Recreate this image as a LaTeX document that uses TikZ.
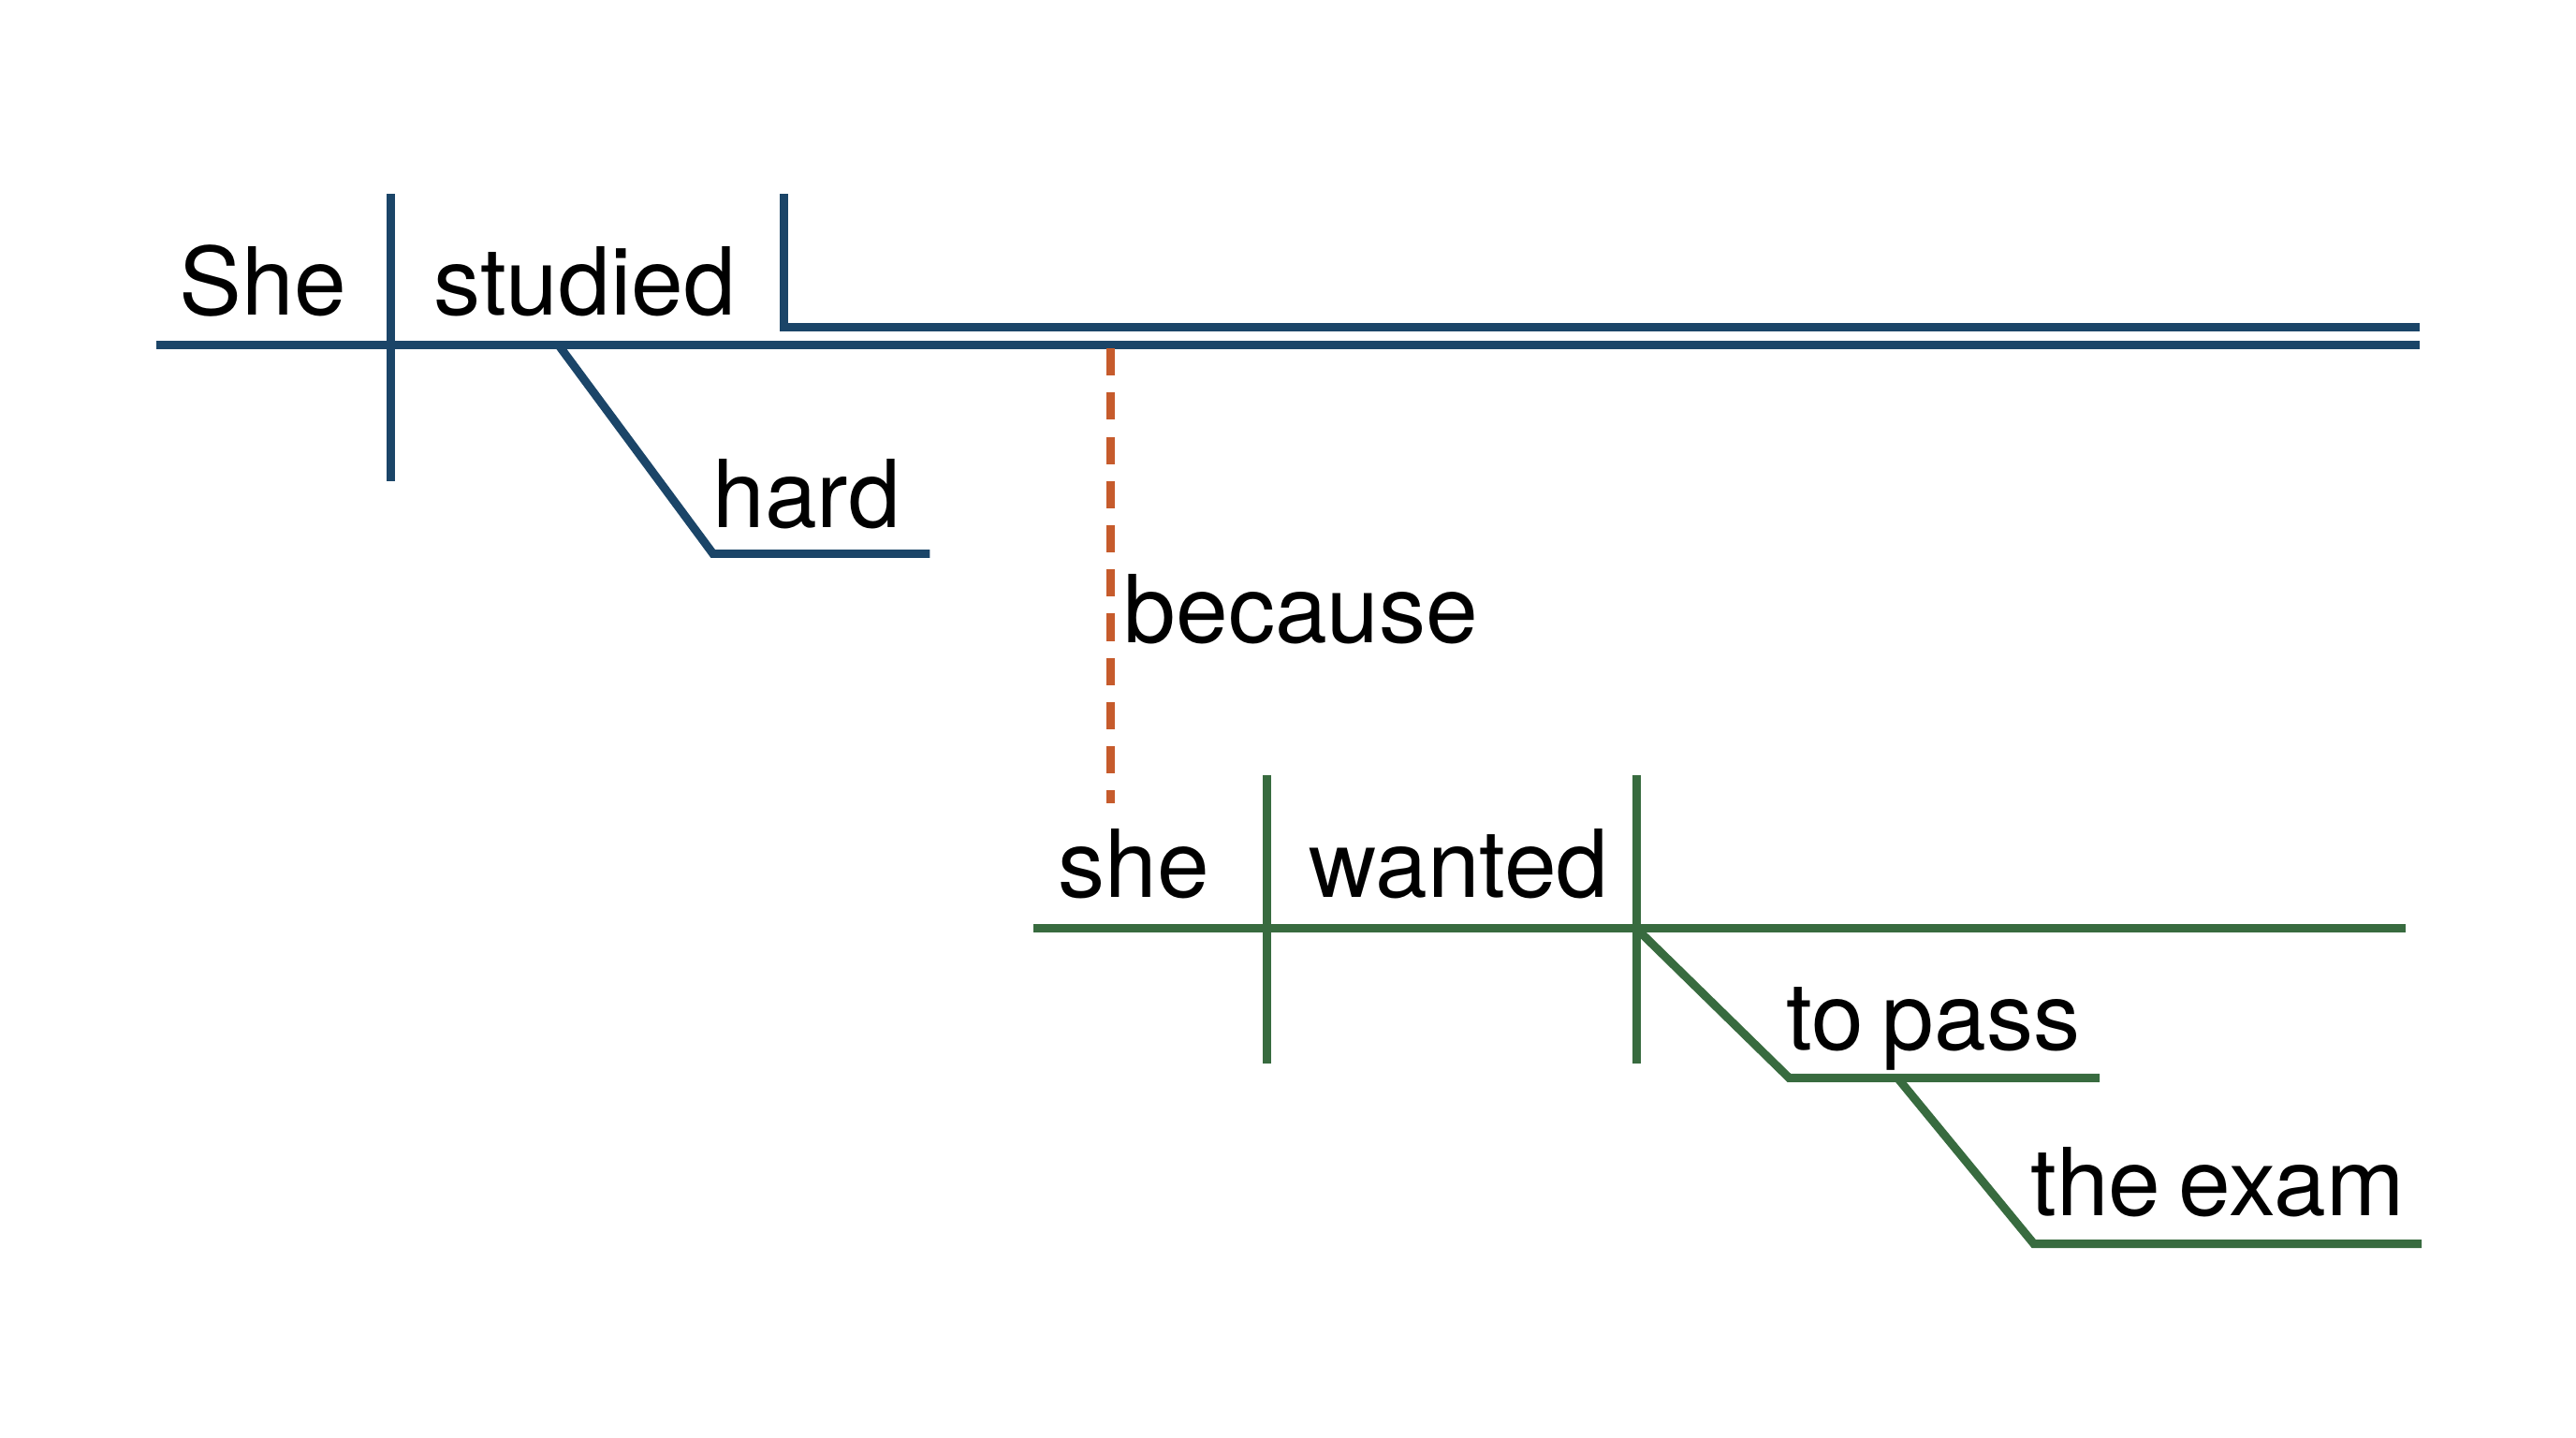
\documentclass[tikz,border=0pt]{standalone}
\usepackage{fontspec}
\setmainfont{TeX Gyre Heros}[WordSpace=0.7]
\definecolor{diagblue}{HTML}{1B4568}
\definecolor{diaggreen}{HTML}{386B3F}
\definecolor{diagorange}{HTML}{C65B2C}
\begin{document}
\begin{tikzpicture}[x=0.02cm, y=-0.02cm, line join=miter,
    mainline/.style={diagblue, line width=2.9pt},
    subline/.style={diaggreen, line width=2.9pt},
    linkline/.style={diagorange, line width=2.9pt, dash pattern=on 9.47pt off 5.84pt},
    word/.style={anchor=base, inner sep=0pt, font=\fontsize{32.5}{40}\selectfont}]
    \useasboundingbox (0,0) rectangle (1568,875);
    \coordinate (mainL) at (95,210);
    \coordinate (mainR) at (1473,210);
    \coordinate (objT) at (477,118);
    \coordinate (objC) at (477,199);
    \coordinate (objR) at (1473,199);
    \coordinate (hardA) at (340,210);
    \coordinate (hardB) at (434,337);
    \coordinate (hardR) at (566,337);
    \coordinate (linkT) at (676,212);
    \coordinate (linkB) at (676,489);
    \coordinate (subL) at (629,565);
    \coordinate (subR) at (1464,565);
    \coordinate (passA) at (996,565);
    \coordinate (passB) at (1089,656);
    \coordinate (passR) at (1278,656);
    \coordinate (examA) at (1155,656);
    \coordinate (examB) at (1238,757);
    \coordinate (examR) at (1474,757);
    \node[word] (she) at (160,192) {She};
    \node[word] (studied) at (356,192) {studied};
    \node[word] (hard) at (491,321) {hard};
    \node[word] (because) at (792,391) {because};
    \node[word] (she2) at (690,546) {she};
    \node[word] (wanted) at (888,546) {wanted};
    \node[word] (topass) at (1177,639) {to pass};
    \node[word] (exam) at (1350,740) {the exam};
    \draw[mainline] (mainL) -- (mainR);
    \draw[mainline] (objT) -- (objC) -- (objR);
    \draw[mainline] (238,118) -- (238,293);
    \draw[mainline] (hardA) -- (hardB) -- (hardR);
    \draw[linkline] (linkT) -- (linkB);
    \draw[subline] (subL) -- (subR);
    \foreach \x in {771,996} \draw[subline] (\x,472) -- (\x,647);
    \draw[subline] (passA) -- (passB) -- (passR);
    \draw[subline] (examA) -- (examB) -- (examR);
\end{tikzpicture}
\end{document}
